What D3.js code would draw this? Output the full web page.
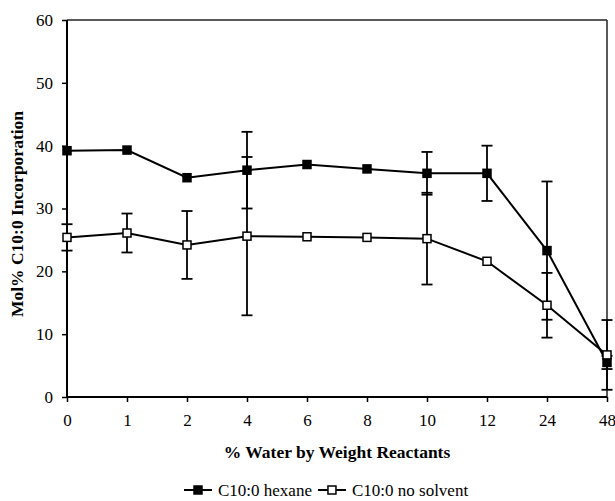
<!DOCTYPE html>
<html>
<head>
<meta charset="utf-8">
<script src="https://cdn.jsdelivr.net/npm/d3@7"></script>
<style>
  body { margin: 0; background: #fff; }
  svg text { font-family: "Liberation Serif", "Times New Roman", serif; fill: #000; }
</style>
</head>
<body>
<svg id="chart"></svg>
<script>
(function(){
    "use strict";

    const categories = ["0", "1", "2", "4", "6", "8", "10", "12", "24", "48"];
    const hexane = [39.2, 39.3, 34.9, 36.1, 37.0, 36.3, 35.6, 35.6, 23.3, 5.5];
    const hexaneErr = [null, null, null, 6.1, null, null, 3.4, 4.4, 11.0, 1.05];
    const noSolvent = [25.4, 26.1, 24.2, 25.6, 25.5, 25.4, 25.2, 21.6, 14.6, 6.7];
    const noSolventErr = [2.1, 3.1, 5.4, 12.6, null, null, 7.3, null, 5.15, 5.55];
    const yTicks = [0, 10, 20, 30, 40, 50, 60];

    const width = 615,
        height = 501,
        left = 67, right = 607, top = 20, bottom = 397;

    const svg = d3.select("svg#chart")
        .attr("width", width)
        .attr("height", height);

    const x = d3.scalePoint().domain(categories).range([left, right]);
    const y = d3.scaleLinear().domain([0, 60]).range([bottom, top]);

    // frame
    svg.append("line").attr("x1", left).attr("x2", right).attr("y1", top).attr("y2", top)
        .attr("stroke", "#222").attr("stroke-width", 1.5);
    svg.append("line").attr("x1", right).attr("x2", right).attr("y1", top).attr("y2", bottom)
        .attr("stroke", "#222").attr("stroke-width", 1.5);

    // axes
    const yAxis = svg.append("g")
        .attr("transform", `translate(${left},0)`)
        .call(d3.axisLeft(y).tickValues(yTicks).tickSize(5).tickPadding(9));
    const xAxis = svg.append("g")
        .attr("transform", `translate(0,${bottom})`)
        .call(d3.axisBottom(x).tickSize(5).tickPadding(12));

    [yAxis, xAxis].forEach(function(g) {
        g.select(".domain").attr("stroke", "#000").attr("stroke-width", 2);
        g.selectAll(".tick line").attr("stroke", "#000").attr("stroke-width", 1.5);
        g.selectAll(".tick text").style("font-size", "17px")
            .style("font-family", "'Liberation Serif', serif").attr("fill", "#000");
    });
    xAxis.select(".domain").attr("d", `M${left},0H${right}`);
    yAxis.select(".domain").attr("d", `M0,${bottom}V${top}`);

    // titles
    svg.append("text")
        .attr("transform", "translate(23,214) rotate(-90)")
        .attr("text-anchor", "middle")
        .style("font-size", "17.5px").style("font-weight", "bold")
        .text("Mol% C10:0 Incorporation");
    svg.append("text")
        .attr("x", 337).attr("y", 458)
        .attr("text-anchor", "middle")
        .style("font-size", "17.5px").style("font-weight", "bold")
        .text("% Water by Weight Reactants");

    const series = [
        { name: "C10:0 hexane", values: hexane, err: hexaneErr, fill: "#000" },
        { name: "C10:0 no solvent", values: noSolvent, err: noSolventErr, fill: "#fff" }
    ];

    const line = d3.line()
        .x(function(d, i) { return x(categories[i]); })
        .y(function(d) { return y(d); });

    // lines
    series.forEach(function(s) {
        svg.append("path")
            .datum(s.values)
            .attr("d", line)
            .attr("fill", "none")
            .attr("stroke", "#000")
            .attr("stroke-width", 2);
    });

    // error bars
    const cap = 5.5;
    series.forEach(function(s) {
        const bars = s.values.map(function(v, i) {
            return { cat: categories[i], v: v, e: s.err[i] };
        }).filter(function(d) { return d.e != null; });

        const g = svg.append("g").attr("stroke", "#000").attr("stroke-width", 1.8);
        g.selectAll("line.stem").data(bars).enter().append("line")
            .attr("class", "stem")
            .attr("x1", function(d) { return x(d.cat); })
            .attr("x2", function(d) { return x(d.cat); })
            .attr("y1", function(d) { return y(d.v + d.e); })
            .attr("y2", function(d) { return y(d.v - d.e); });
        [1, -1].forEach(function(sign) {
            g.selectAll("line.cap" + sign).data(bars).enter().append("line")
                .attr("x1", function(d) { return x(d.cat) - cap; })
                .attr("x2", function(d) { return x(d.cat) + cap; })
                .attr("y1", function(d) { return y(d.v + sign * d.e); })
                .attr("y2", function(d) { return y(d.v + sign * d.e); });
        });
    });

    // markers
    const size = 8;
    series.forEach(function(s) {
        svg.append("g").selectAll("rect")
            .data(s.values)
            .enter().append("rect")
            .attr("x", function(d, i) { return x(categories[i]) - size / 2; })
            .attr("y", function(d) { return y(d) - size / 2; })
            .attr("width", size)
            .attr("height", size)
            .attr("fill", s.fill)
            .attr("stroke", "#000")
            .attr("stroke-width", 1.5);
    });

    // legend, items laid out one after the other
    const legendY = 490;
    let lx = 184;
    series.forEach(function(s) {
        const lg = svg.append("g").attr("transform", `translate(${lx},${legendY})`);
        lg.append("line").attr("x1", 0).attr("x2", 28).attr("y1", 0).attr("y2", 0)
            .attr("stroke", "#000").attr("stroke-width", 2);
        lg.append("rect").attr("x", 14 - size / 2).attr("y", -size / 2)
            .attr("width", size).attr("height", size)
            .attr("fill", s.fill).attr("stroke", "#000").attr("stroke-width", 1.5);
        const t = lg.append("text").attr("x", 34).attr("y", 6)
            .style("font-size", "17px")
            .text(s.name);
        lx += 34 + t.node().getComputedTextLength() + 6;
    });
})();
</script>
</body>
</html>
